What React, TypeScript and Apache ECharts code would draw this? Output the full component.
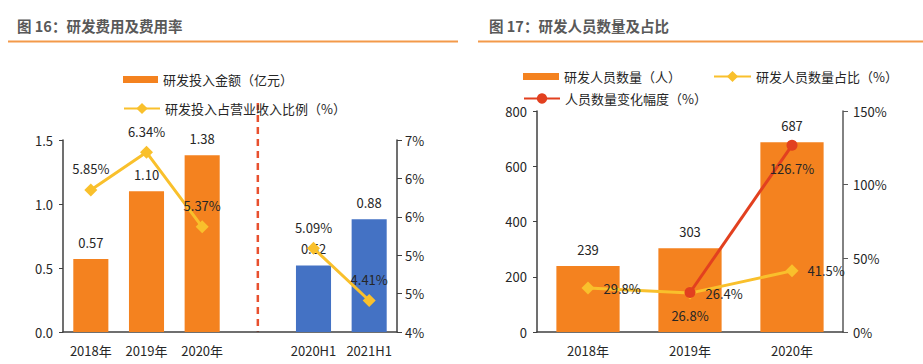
import React, { useEffect, useRef } from "react";
import * as echarts from "echarts";

const FONT = "'Noto Sans CJK SC', 'Noto Sans', sans-serif";

// Left chart (图16)
const leftCategories = ["2018年", "2019年", "2020年", "", "2020H1", "2021H1"];
const rdAmount = [0.57, 1.1, 1.38, null, 0.52, 0.88];
const rdRatio = [5.85, 6.34, 5.37, null, 5.09, 4.41];
const amountColors = ["#F4821F", "#F4821F", "#F4821F", "#F4821F", "#4472C4", "#4472C4"];

// Right chart (图17)
const rightCategories = ["2018年", "2019年", "2020年"];
const staffCount = [239, 303, 687];
const staffRatio = [29.8, 26.4, 41.5];
const staffChange = [null, 26.8, 126.7];

const TEXT = "#262626";
const AXIS = "#404040";
const ORANGE = "#F4821F";
const YELLOW = "#F9C02C";
const RED = "#E2401F";

export default function App() {
  const ref = useRef<HTMLDivElement>(null);
  useEffect(() => {
    if (!ref.current) return;
    const chart = echarts.init(ref.current, undefined, { renderer: "svg" });
    const axisLabel = { color: TEXT, fontSize: 13, fontFamily: FONT };
    const legendText = { color: TEXT, fontSize: 13, fontFamily: FONT };
    const underline = [
      {
        type: "line",
        shape: { x1: 8, y1: 41.5, x2: 458, y2: 41.5 },
        style: { stroke: "#F39A4A", lineWidth: 2 },
      },
      {
        type: "line",
        shape: { x1: 478, y1: 41.5, x2: 923, y2: 41.5 },
        style: { stroke: "#F39A4A", lineWidth: 2 },
      },
    ];
    const option: any = {
      animation: false,
      title: [
        {
          text: "图 16：研发费用及费用率",
          left: 17,
          top: 18,
          padding: 0,
          textStyle: { fontSize: 14.5, fontWeight: "bold", color: "#595959", fontFamily: FONT },
        },
        {
          text: "图 17：研发人员数量及占比",
          left: 489,
          top: 18,
          padding: 0,
          textStyle: { fontSize: 14.5, fontWeight: "bold", color: "#595959", fontFamily: FONT },
        },
      ],
      legend: [
        {
          data: ["研发投入金额（亿元）"],
          left: 123,
          top: 73,
          padding: 0,
          icon: "rect",
          itemWidth: 35,
          itemHeight: 7,
          textStyle: legendText,
        },
        {
          data: ["研发投入占营业收入比例（%）"],
          left: 123,
          top: 102,
          padding: 0,
          itemWidth: 36,
          itemHeight: 14,
          textStyle: legendText,
        },
        {
          data: ["研发人员数量（人）"],
          left: 523,
          top: 70,
          padding: 0,
          icon: "rect",
          itemWidth: 36,
          itemHeight: 7,
          textStyle: legendText,
        },
        {
          data: ["研发人员数量占比（%）"],
          left: 713,
          top: 70,
          padding: 0,
          itemWidth: 37,
          itemHeight: 14,
          textStyle: legendText,
        },
        {
          data: ["人员数量变化幅度（%）"],
          left: 523,
          top: 92,
          padding: 0,
          itemWidth: 36,
          itemHeight: 13,
          textStyle: legendText,
        },
      ],
      grid: [
        { left: 63, right: 526, top: 140, bottom: 32 },
        { left: 537, right: 80, top: 111, bottom: 32 },
      ],
      xAxis: [
        {
          type: "category",
          gridIndex: 0,
          data: leftCategories,
          axisLine: { lineStyle: { color: AXIS, width: 1.5 } },
          axisTick: { length: 5, interval: 0, lineStyle: { color: AXIS } },
          axisLabel: { ...axisLabel, margin: 12, interval: 0 },
        },
        {
          type: "category",
          gridIndex: 1,
          data: rightCategories,
          axisLine: { lineStyle: { color: AXIS, width: 1.5 } },
          axisTick: { length: 5, interval: 0, lineStyle: { color: AXIS } },
          axisLabel: { ...axisLabel, margin: 12, interval: 0 },
        },
      ],
      yAxis: [
        {
          type: "value",
          gridIndex: 0,
          min: 0,
          max: 1.5,
          interval: 0.5,
          splitLine: { show: false },
          axisLine: { show: true, lineStyle: { color: AXIS, width: 1.5 } },
          axisTick: { show: true, length: 4, lineStyle: { color: AXIS } },
          axisLabel: { ...axisLabel, margin: 10, formatter: (v: number) => v.toFixed(1) },
        },
        {
          type: "value",
          gridIndex: 0,
          position: "right",
          min: 4,
          max: 6.5,
          interval: 0.5,
          splitLine: { show: false },
          axisLine: { show: true, lineStyle: { color: AXIS, width: 1.5 } },
          axisTick: { show: true, length: 5, lineStyle: { color: AXIS } },
          axisLabel: { ...axisLabel, margin: 8, formatter: (v: number) => Math.round(v + 1e-9) + "%" },
        },
        {
          type: "value",
          gridIndex: 1,
          min: 0,
          max: 800,
          interval: 200,
          splitLine: { show: false },
          axisLine: { show: true, lineStyle: { color: AXIS, width: 1.5 } },
          axisTick: { show: true, length: 4, lineStyle: { color: AXIS } },
          axisLabel: { ...axisLabel, margin: 10 },
        },
        {
          type: "value",
          gridIndex: 1,
          position: "right",
          min: 0,
          max: 150,
          interval: 50,
          splitLine: { show: false },
          axisLine: { show: true, lineStyle: { color: "#595959", width: 1.5 } },
          axisTick: { show: true, length: 5, lineStyle: { color: "#595959" } },
          axisLabel: { ...axisLabel, margin: 10, formatter: (v: number) => v + "%" },
        },
      ],
      series: [
        {
          name: "研发投入金额（亿元）",
          type: "bar",
          xAxisIndex: 0,
          yAxisIndex: 0,
          barWidth: "63%",
          itemStyle: { color: ORANGE },
          data: rdAmount.map((v, i) => ({ value: v, itemStyle: { color: amountColors[i] } })),
          label: {
            show: true,
            position: "top",
            distance: 10,
            color: TEXT,
            fontSize: 13,
            fontFamily: FONT,
            formatter: (p: any) => (p.value == null ? "" : Number(p.value).toFixed(2)),
          },
        },
        {
          name: "研发投入占营业收入比例（%）",
          type: "line",
          xAxisIndex: 0,
          yAxisIndex: 1,
          data: rdRatio,
          symbol: "diamond",
          symbolSize: 13,
          lineStyle: { color: YELLOW, width: 3 },
          itemStyle: { color: YELLOW },
          label: {
            show: true,
            position: "top",
            distance: 8,
            color: TEXT,
            fontSize: 13,
            fontFamily: FONT,
            formatter: (p: any) => Number(p.value).toFixed(2) + "%",
          },
        },
        {
          name: "研发人员数量（人）",
          type: "bar",
          xAxisIndex: 1,
          yAxisIndex: 2,
          barWidth: "62%",
          itemStyle: { color: ORANGE },
          data: staffCount,
          label: {
            show: true,
            position: "top",
            distance: 10,
            color: TEXT,
            fontSize: 13,
            fontFamily: FONT,
          },
        },
        {
          name: "研发人员数量占比（%）",
          type: "line",
          xAxisIndex: 1,
          yAxisIndex: 3,
          data: staffRatio,
          symbol: "diamond",
          symbolSize: 13,
          lineStyle: { color: YELLOW, width: 3 },
          itemStyle: { color: YELLOW },
          label: {
            show: true,
            position: "right",
            distance: 9,
            color: TEXT,
            fontSize: 13,
            fontFamily: FONT,
            formatter: (p: any) => Number(p.value).toFixed(1) + "%",
          },
        },
        {
          name: "人员数量变化幅度（%）",
          type: "line",
          xAxisIndex: 1,
          yAxisIndex: 3,
          data: staffChange,
          symbol: "circle",
          symbolSize: 11,
          lineStyle: { color: RED, width: 3 },
          itemStyle: { color: RED },
          label: {
            show: true,
            position: "bottom",
            distance: 11,
            color: TEXT,
            fontSize: 13,
            fontFamily: FONT,
            formatter: (p: any) => Number(p.value).toFixed(1) + "%",
          },
        },
      ],
      graphic: underline,
    };
    chart.setOption(option);
    const gapX = chart.convertToPixel({ xAxisIndex: 0 }, 3) as number;
    const baseY = chart.convertToPixel({ yAxisIndex: 0 }, 0) as number;
    chart.setOption({
      graphic: [
        ...underline,
        {
          type: "line",
          shape: { x1: gapX, y1: 103, x2: gapX, y2: baseY },
          style: { stroke: "#E8502E", lineWidth: 2.5, lineDash: [7, 5] },
        },
      ],
    });
    return () => chart.dispose();
  }, []);
  return (
    <div
      ref={ref}
      style={{ position: "absolute", left: 0, top: 0, width: 923, height: 364, background: "#fff" }}
    />
  );
}
